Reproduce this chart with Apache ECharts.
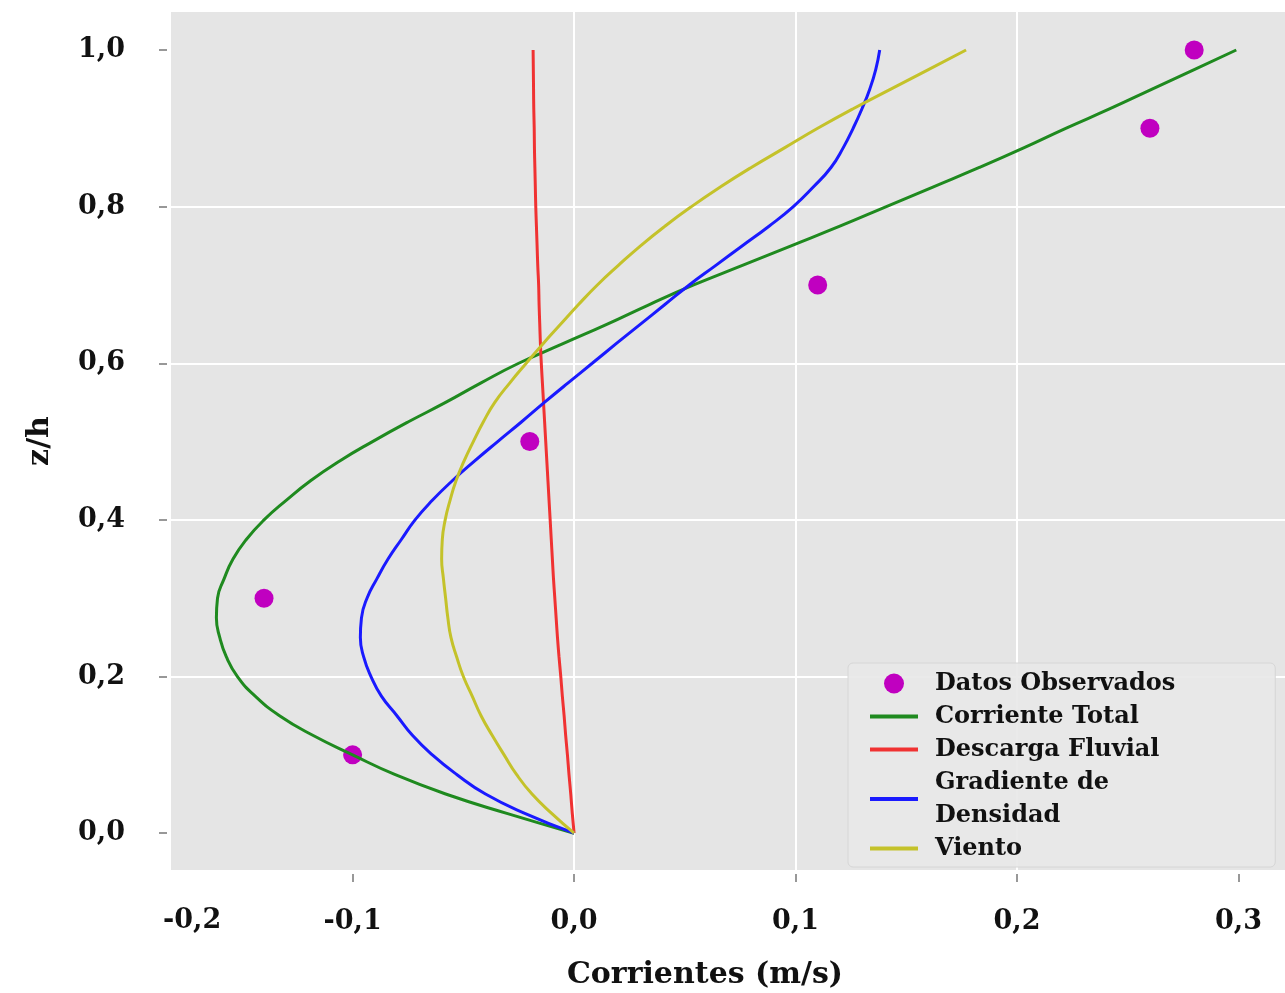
<!DOCTYPE html>
<html>
<head>
<meta charset="utf-8">
<script src="https://cdn.jsdelivr.net/npm/echarts@6/dist/echarts.min.js"></script>
<style>
html,body{margin:0;padding:0;background:#ffffff;}
#chart{width:1285px;height:993px;}
</style>
</head>
<body>
<div id="chart"></div>
<script>
// depth levels z/h
const zLevels = [0, 0.025, 0.05, 0.075, 0.1, 0.125, 0.15, 0.175, 0.2, 0.225, 0.25, 0.275, 0.3, 0.325, 0.35, 0.375, 0.4, 0.425, 0.45, 0.475, 0.5,
                 0.525, 0.55, 0.575, 0.6, 0.625, 0.65, 0.675, 0.7, 0.725, 0.75, 0.775, 0.8, 0.825, 0.85, 0.875, 0.9, 0.925, 0.95, 0.975, 1.0];
// currents (m/s)
const corrienteTotal = [0, -0.030, -0.058, -0.081, -0.100, -0.118, -0.133, -0.144, -0.152, -0.157, -0.160, -0.1615, -0.161, -0.158, -0.154, -0.148, -0.140, -0.130, -0.119, -0.106, -0.091,
                        -0.075, -0.058, -0.042, -0.025, -0.005, 0.015, 0.034, 0.054, 0.076, 0.098, 0.120, 0.141, 0.162, 0.183, 0.203, 0.222, 0.242, 0.261, 0.280, 0.299];
const descargaFluvial = [0, -0.0008, -0.0015, -0.0023, -0.003, -0.0038, -0.0045, -0.0053, -0.006, -0.0068, -0.0075, -0.0081, -0.0087, -0.0093, -0.0098, -0.0103, -0.0108, -0.0113, -0.0118, -0.0123, -0.0128,
                         -0.0133, -0.0138, -0.0143, -0.0148, -0.0152, -0.0155, -0.0158, -0.016, -0.0164, -0.0167, -0.017, -0.0173, -0.0175, -0.0177, -0.0179, -0.018, -0.0182, -0.0183, -0.0184, -0.0185];
const gradienteDensidad = [0, -0.022, -0.040, -0.053, -0.064, -0.073, -0.080, -0.087, -0.0917, -0.095, -0.0965, -0.0960, -0.0935, -0.089, -0.084, -0.078, -0.0718, -0.064, -0.055, -0.045, -0.0345,
                           -0.0238, -0.0134, -0.0027, 0.0082, 0.019, 0.030, 0.041, 0.052, 0.064, 0.076, 0.088, 0.099, 0.108, 0.116, 0.1215, 0.126, 0.130, 0.1335, 0.1362, 0.138];
const viento = [0, -0.010, -0.019, -0.026, -0.0316, -0.037, -0.042, -0.046, -0.050, -0.053, -0.0556, -0.057, -0.058, -0.059, -0.0598, -0.0595, -0.0582, -0.056, -0.0533, -0.0497, -0.0455,
                -0.041, -0.0358, -0.029, -0.0216, -0.014, -0.006, 0.002, 0.0105, 0.020, 0.030, 0.041, 0.053, 0.066, 0.080, 0.095, 0.110, 0.126, 0.143, 0.160, 0.177];
// observed data
const obsCorriente = [-0.10, -0.14, -0.02, 0.11, 0.26, 0.28];
const obsZ = [0.1, 0.3, 0.5, 0.7, 0.9, 1.0];
// tick labels
const xTicks = [-0.1, 0.0, 0.1, 0.2, 0.3];
const yTicks = [0.0, 0.2, 0.4, 0.6, 0.8, 1.0];
const xExtraLabel = '-0,2';

const seriesNames = ['Datos Observados', 'Corriente Total', 'Descarga Fluvial', 'Gradiente de\nDensidad', 'Viento'];
const colors = ['#c000c0', '#1f8a1f', '#f03232', '#1a1aff', '#c4c22a'];

const FONT = '"DejaVu Serif", "Liberation Serif", serif';
const fmt = v => v.toFixed(1).replace('.', ',');
const pairs = xs => xs.map((x, i) => [x, zLevels[i]]);
const LINE_ICON = 'path://M0,0H48V4H0Z';

const chart = echarts.init(document.getElementById('chart'), null, {renderer: 'canvas'});
const lineSeries = (idx, values) => ({
  name: seriesNames[idx], type: 'line', symbol: 'none', showSymbol: false,
  smooth: 0.5,
  lineStyle: {color: colors[idx], width: 3}, itemStyle: {color: colors[idx]},
  data: pairs(values), z: 3
});

chart.setOption({
  animation: false,
  backgroundColor: '#ffffff',
  grid: {left: 171, right: 0, top: 12, bottom: 123, show: true, backgroundColor: '#e5e5e5', borderWidth: 0,
         containLabel: false, outerBoundsMode: 'none'},
  xAxis: {
    type: 'value', min: -0.182, max: 0.321, offset: 4,
    name: 'Corrientes (m/s)', nameLocation: 'middle', nameGap: 86,
    nameTextStyle: {fontFamily: FONT, fontWeight: 'bold', fontSize: 30, color: '#111', padding: [0, 46, 0, 0]},
    axisLine: {show: false, onZero: false},
    axisTick: {show: true, length: 8, customValues: xTicks, lineStyle: {color: '#777', width: 1.5}},
    axisLabel: {customValues: xTicks, formatter: fmt, margin: 34, fontFamily: FONT, fontWeight: 'bold', fontSize: 27, color: '#111'},
    splitLine: {show: true, showMinLine: false, showMaxLine: false, lineStyle: {color: '#ffffff', width: 2}}
  },
  yAxis: {
    type: 'value', min: -0.047, max: 1.0485, offset: 4,
    name: 'z/h', nameLocation: 'middle', nameRotate: 90, nameGap: 112,
    nameTextStyle: {fontFamily: FONT, fontWeight: 'bold', fontSize: 30, color: '#111'},
    axisLine: {show: false, onZero: false},
    axisTick: {show: true, length: 8, customValues: yTicks, lineStyle: {color: '#777', width: 1.5}},
    axisLabel: {customValues: yTicks, formatter: fmt, margin: 42, fontFamily: FONT, fontWeight: 'bold', fontSize: 27, color: '#111'},
    splitLine: {show: true, showMinLine: false, showMaxLine: false, lineStyle: {color: '#ffffff', width: 2}}
  },
  legend: {
    orient: 'vertical', left: 848, top: 663,
    padding: [4, 100, 2, 22], itemGap: 0, itemWidth: 48, itemHeight: 20,
    backgroundColor: 'rgba(232,232,232,0.9)', borderColor: '#d6d6d6', borderWidth: 1, borderRadius: 5,
    data: seriesNames.map((n, i) => i === 0 ? {name: n, icon: 'circle'} : {name: n, icon: LINE_ICON}),
    textStyle: {fontFamily: FONT, fontWeight: 'bold', fontSize: 24, color: '#111', lineHeight: 33, padding: [0, 0, 0, 12]}
  },
  graphic: [{
    type: 'text', left: 163, top: 907, silent: true,
    style: {text: xExtraLabel, font: 'bold 27px ' + FONT, fill: '#111'}
  }],
  series: [
    {name: seriesNames[0], type: 'scatter', symbol: 'circle', symbolSize: 19, itemStyle: {color: colors[0], opacity: 1},
     data: obsCorriente.map((x, i) => [x, obsZ[i]]), z: 1},
    lineSeries(1, corrienteTotal),
    lineSeries(2, descargaFluvial),
    lineSeries(3, gradienteDensidad),
    lineSeries(4, viento)
  ]
});
</script>
</body>
</html>
